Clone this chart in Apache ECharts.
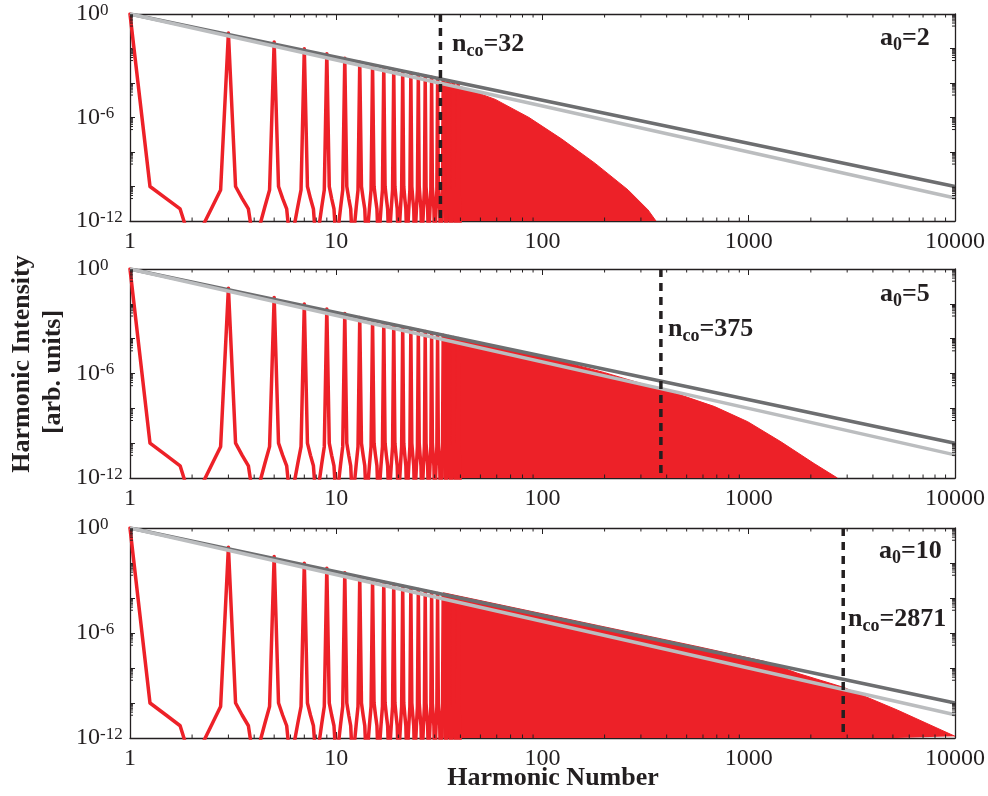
<!DOCTYPE html>
<html><head><meta charset="utf-8">
<script src="https://cdn.jsdelivr.net/npm/echarts@6/dist/echarts.min.js"></script>
<style>html,body{margin:0;padding:0;background:#fff}#c{width:988px;height:796px}</style>
</head><body><div id="c"></div>
<script>
// ---------- data ----------
const xTickLabels = [1, 10, 100, 1000, 10000];
const yLabelExps = [0, -6, -12];
const a0Values = [2, 5, 10];
const ncoValues = [32, 375, 2871];

// odd-harmonic spike peaks (log10 of intensity)
const peakN   = [1, 3, 5, 7, 9, 11, 13, 15, 17, 19, 21, 23, 25, 27, 29, 31, 33, 35, 37, 39];
const peakExp = [0, -1.1, -1.63, -2.01, -2.3, -2.56, -2.79, -2.98, -3.1, -3.22, -3.33, -3.42, -3.51, -3.59, -3.67, -3.74, -3.81, -3.87, -3.93, -3.99];
// samples around each spike (offset in harmonic number, log10 intensity)
const shoulderOffset = [-0.75, -0.5, -0.25, 0.25, 0.5, 0.75, 1];
const shoulderExp    = [-12.3, -11.2, -10.2, -10.0, -10.7, -11.3, -13.5];

// upper envelope of the dense (unresolved) part of each spectrum
const env1N   = [33, 41, 59, 86, 124, 180, 260, 325, 355];
const env1Exp = [-3.9, -4.25, -4.95, -6.0, -7.25, -8.66, -10.2, -11.36, -12];
const env2N   = [33, 60, 107, 200, 363, 469, 683, 989, 1432, 2075, 2692];
const env2Exp = [-3.8, -4.45, -5.1, -5.95, -6.86, -7.24, -7.9, -8.77, -9.92, -11.17, -12];
const env3N   = [33, 100, 187, 567, 1191, 1726, 2871, 5250, 10000];
const env3Exp = [-3.7, -4.9, -5.58, -6.78, -7.62, -8.3, -9.1, -10.4, -11.9];

// power-law reference lines
const fitN = [1, 10000];
const fitDarkExp  = [0, -10.0];
const fitLightExp = [0, -10.67];

// minor tick values
const xMinorTicks = [2,3,4,5,6,7,8,9,20,30,40,50,60,70,80,90,200,300,400,500,600,700,800,900,2000,3000,4000,5000,6000,7000,8000,9000];
const yMinorTicks = [2e-1,3e-1,4e-1,5e-1,6e-1,7e-1,8e-1,9e-1,
  2e-3,3e-3,4e-3,5e-3,6e-3,7e-3,8e-3,9e-3,
  2e-5,3e-5,4e-5,5e-5,6e-5,7e-5,8e-5,9e-5,
  2e-7,3e-7,4e-7,5e-7,6e-7,7e-7,8e-7,9e-7,
  2e-9,3e-9,4e-9,5e-9,6e-9,7e-9,8e-9,9e-9,
  2e-11,3e-11,4e-11,5e-11,6e-11,7e-11,8e-11,9e-11];

// ---------- build ----------
const RED = '#ED2128', DARK = '#6D6E70', LIGHT = '#BBBDBF', INK = '#231F20';
const SERIF = '"Liberation Serif","Times New Roman",serif';
const p10 = e => Math.pow(10, e);

const spikeData = [];
peakN.forEach((n, i) => {
  shoulderOffset.forEach((o, j) => {
    if (o < 0 && n !== 1) spikeData.push([n + o, p10(shoulderExp[j])]);
  });
  spikeData.push([n, p10(peakExp[i])]);
  shoulderOffset.forEach((o, j) => {
    if (o > 0) spikeData.push([n + o, p10(shoulderExp[j])]);
  });
});
const envs = [[env1N, env1Exp], [env2N, env2Exp], [env3N, env3Exp]];

const gridTops = [14, 269, 528];
const gridHeights = [207, 209, 210];
const grids = [], xAxes = [], yAxes = [], series = [];

for (let i = 0; i < 3; i++) {
  grids.push({ left: 130, right: 30, top: gridTops[i], height: gridHeights[i] });
}
const axisLineStyle = { color: INK, width: 1.3 };
for (let i = 0; i < 3; i++) {
  xAxes.push({
    type: 'log', logBase: 10, gridIndex: i, min: 1, max: 10000, interval: 1,
    axisLine: { show: true, onZero: false, lineStyle: axisLineStyle },
    axisTick: { show: true, inside: true, length: 6, lineStyle: { color: INK, width: 1 } },
    axisLabel: {
      show: true, margin: 9, fontFamily: SERIF, fontSize: 24, color: INK,
      formatter: v => { const r = Math.round(v); return xTickLabels.indexOf(r) >= 0 ? String(r) : ''; }
    },
    splitLine: { show: false }
  });
}
for (let i = 0; i < 3; i++) {
  xAxes.push({
    type: 'log', logBase: 10, gridIndex: i, min: 1, max: 10000, interval: 1, position: 'top',
    axisLine: { show: true, onZero: false, lineStyle: axisLineStyle },
    axisTick: { show: true, inside: true, length: 6, lineStyle: { color: INK, width: 1 } },
    axisLabel: { show: false }, splitLine: { show: false }
  });
}
const yRich = {
  b: { fontFamily: SERIF, fontSize: 24, lineHeight: 24, verticalAlign: 'bottom', color: INK },
  s: { fontFamily: SERIF, fontSize: 17, lineHeight: 17, verticalAlign: 'top', padding: [0, 0, 11, 0], color: INK }
};
for (let i = 0; i < 3; i++) {
  yAxes.push({
    type: 'log', logBase: 10, gridIndex: i, min: 1e-12, max: 1, interval: 2,
    axisLine: { show: true, onZero: false, lineStyle: axisLineStyle },
    axisTick: { show: true, inside: true, length: 5, lineStyle: { color: INK, width: 1 } },
    axisLabel: {
      show: true, margin: 54, align: 'left', color: INK,
      formatter: v => {
        const e = Math.round(Math.log10(v));
        if (yLabelExps.indexOf(e) < 0) return '';
        return '{b|10}{s|' + e + '}';
      },
      rich: yRich
    },
    splitLine: { show: false }
  });
}
for (let i = 0; i < 3; i++) {
  yAxes.push({
    type: 'log', logBase: 10, gridIndex: i, min: 1e-12, max: 1, interval: 2, position: 'right',
    axisLine: { show: true, onZero: false, lineStyle: axisLineStyle },
    axisTick: { show: true, inside: true, length: 5, lineStyle: { color: INK, width: 1 } },
    axisLabel: { show: false }, splitLine: { show: false }
  });
}

for (let i = 0; i < 3; i++) {
  // spikes
  series.push({
    type: 'line', xAxisIndex: i, yAxisIndex: i, data: spikeData, symbol: 'none', clip: true,
    lineStyle: { color: RED, width: 3.5, join: 'round', cap: 'round' }, z: 2, silent: true
  });
  // dense part envelope
  const [eN, eE] = envs[i];
  series.push({
    type: 'line', xAxisIndex: i, yAxisIndex: i, data: eN.map((n, k) => [n, p10(eE[k])]),
    symbol: 'none', clip: true,
    lineStyle: { color: RED, width: 1 }, areaStyle: { color: RED, opacity: 1, origin: 'start' }, z: 2, silent: true
  });
  // power law lines
  series.push({
    type: 'line', xAxisIndex: i, yAxisIndex: i, data: fitN.map((n, k) => [n, p10(fitDarkExp[k])]),
    symbol: 'none', lineStyle: { color: DARK, width: 3.5 }, z: 3, silent: true
  });
  series.push({
    type: 'line', xAxisIndex: i, yAxisIndex: i, data: fitN.map((n, k) => [n, p10(fitLightExp[k])]),
    symbol: 'none', lineStyle: { color: LIGHT, width: 3.5 }, z: 4, silent: true
  });
  // cutoff marker
  series.push({
    type: 'line', xAxisIndex: i, yAxisIndex: i, data: [[ncoValues[i], 1], [ncoValues[i], 1e-12]],
    symbol: 'none', lineStyle: { color: INK, width: 3.5, type: [8, 6] }, z: 5, silent: true
  });
  // minor ticks (x: bottom & top, y: left & right)
  series.push({
    type: 'custom', xAxisIndex: i, yAxisIndex: i, clip: false, silent: true, z: 6,
    data: xMinorTicks.map(v => [v, 1e-12]),
    renderItem: (params, api) => {
      const b = api.coord([api.value(0), 1e-12]);
      const t = api.coord([api.value(0), 1]);
      return { type: 'group', children: [
        { type: 'line', shape: { x1: b[0], y1: b[1], x2: b[0], y2: b[1] - 3.5 }, style: { stroke: INK, lineWidth: 1 } },
        { type: 'line', shape: { x1: t[0], y1: t[1], x2: t[0], y2: t[1] + 3.5 }, style: { stroke: INK, lineWidth: 1 } }
      ]};
    }
  });
  series.push({
    type: 'custom', xAxisIndex: i, yAxisIndex: i, clip: false, silent: true, z: 6,
    data: yMinorTicks.map(v => [1, v]),
    renderItem: (params, api) => {
      const l = api.coord([1, api.value(1)]);
      const r = api.coord([10000, api.value(1)]);
      return { type: 'group', children: [
        { type: 'line', shape: { x1: l[0], y1: l[1], x2: l[0] + 3, y2: l[1] }, style: { stroke: INK, lineWidth: 1 } },
        { type: 'line', shape: { x1: r[0], y1: r[1], x2: r[0] - 3, y2: r[1] }, style: { stroke: INK, lineWidth: 1 } }
      ]};
    }
  });
}

const labRich = {
  m: { fontFamily: SERIF, fontWeight: 'bold', fontSize: 26, lineHeight: 26, verticalAlign: 'top', color: INK },
  c: { fontFamily: SERIF, fontWeight: 'bold', fontSize: 18, lineHeight: 18, verticalAlign: 'top', padding: [11, 0, 0, 0], color: INK }
};
const ncoPos = [[452, 31], [668, 316], [848, 606]];
const a0Pos = [[880, 25], [880, 281], [879, 538]];
const graphics = [];
for (let i = 0; i < 3; i++) {
  graphics.push({ type: 'text', x: ncoPos[i][0], y: ncoPos[i][1], z: 50,
    style: { text: '{m|n}{c|co}{m|=' + ncoValues[i] + '}', rich: labRich, fill: INK } });
  graphics.push({ type: 'text', x: a0Pos[i][0], y: a0Pos[i][1], z: 50,
    style: { text: '{m|a}{c|0}{m|=' + a0Values[i] + '}', rich: labRich, fill: INK } });
}
graphics.push({ type: 'text', x: 22, y: 364, rotation: Math.PI / 2,
  style: { text: 'Harmonic Intensity', align: 'center', verticalAlign: 'middle', font: 'bold 26px ' + SERIF, fill: INK } });
graphics.push({ type: 'text', x: 53, y: 372, rotation: Math.PI / 2,
  style: { text: '[arb. units]', align: 'center', verticalAlign: 'middle', font: 'bold 26px ' + SERIF, fill: INK } });
graphics.push({ type: 'text', x: 553, y: 778,
  style: { text: 'Harmonic Number', align: 'center', verticalAlign: 'middle', font: 'bold 26px ' + SERIF, fill: INK } });

const chart = echarts.init(document.getElementById('c'), null, { renderer: 'canvas' });
chart.setOption({
  animation: false,
  backgroundColor: '#fff',
  grid: grids, xAxis: xAxes, yAxis: yAxes, series: series, graphic: graphics
});
</script></body></html>
